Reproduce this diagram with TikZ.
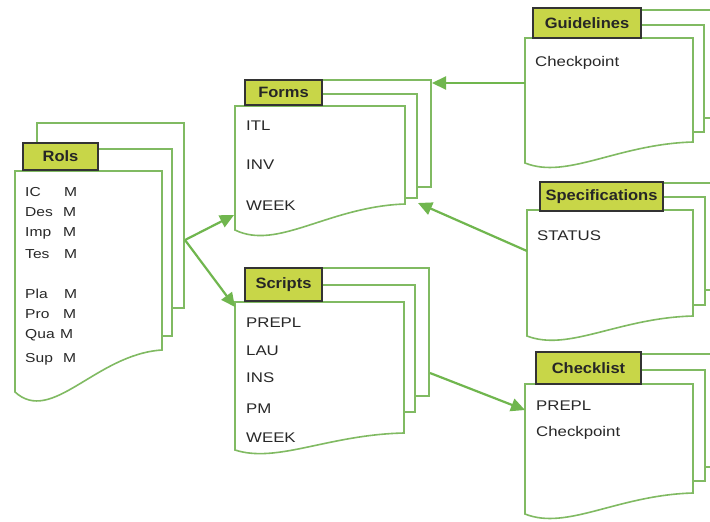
\documentclass[tikz,border=0pt]{standalone}
\usepackage{fontspec}
\setmainfont[FakeStretch=1.2]{Liberation Sans}
\newfontfamily\tabfont[FakeStretch=1.1]{Liberation Sans}
\usetikzlibrary{arrows.meta}
\definecolor{pagegreen}{RGB}{128,186,98}
\definecolor{arrowgreen}{RGB}{112,182,78}
\definecolor{tabfill}{RGB}{200,214,72}
\definecolor{txtgray}{RGB}{40,40,40}
\tikzset{
 pageline/.style={draw=pagegreen, line width=1.6pt, fill=white, line join=miter},
 tabbox/.style={draw=black!80, line width=1.2pt, fill=tabfill, font=\tabfont\bfseries\fontsize{15}{15}\selectfont, text=black!85, inner sep=0pt},
 txt/.style={anchor=base west, inner sep=0pt, font=\fontsize{14}{14}\selectfont, text=txtgray},
 roletxt/.style={anchor=base west, inner sep=0pt, font=\fontsize{13}{13}\selectfont, text=txtgray},
 conn/.style={draw=arrowgreen, line width=2.2pt, -{Triangle[length=14pt,width=13pt]}},
}
\newcommand\backpage[4]{\draw[pageline] (#1,#2) rectangle (#3,#4);}
\newcommand\frontpage[5]{%
 \pgfmathsetmacro\fpw{#3-#1}\pgfmathsetmacro\fpd{#5-#4}%
 \draw[pageline] (#1,#5) -- (#1,#2) -- (#3,#2) -- (#3,#4) .. controls ({#1+0.55*\fpw},{#4+0.1*\fpd}) and ({#1+0.25*\fpw},{#5+0.8*\fpd}) .. (#1,#5) -- cycle;}
\begin{document}
\begin{tikzpicture}[x=1pt,y=-1pt]
\fill[white] (0,0) rectangle (710,522);
\useasboundingbox (0,0) rectangle (710,522);
% Roles
\backpage{37}{123}{184}{308}
\backpage{26}{149}{172}{336}
\frontpage{15}{171}{162}{350}{392}
\node[tabbox, minimum width=75pt, minimum height=27pt] (rolesTab) at (60.5,156.5) {Rols};
\node[roletxt] (r1) at (25,196) {IC};  \node[roletxt] (r1m) at (64,196) {M};
\node[roletxt] (r2) at (25,216) {Des}; \node[roletxt] (r2m) at (63,216) {M};
\node[roletxt] (r3) at (25,236) {Imp}; \node[roletxt] (r3m) at (63,236) {M};
\node[roletxt] (r4) at (25,258) {Tes}; \node[roletxt] (r4m) at (64,258) {M};
\node[roletxt] (r5) at (25,298) {Pla}; \node[roletxt] (r5m) at (64,298) {M};
\node[roletxt] (r6) at (25,318) {Pro}; \node[roletxt] (r6m) at (63,318) {M};
\node[roletxt] (r7) at (25,338) {Qua}; \node[roletxt] (r7m) at (60,338) {M};
\node[roletxt] (r8) at (25,362) {Sup}; \node[roletxt] (r8m) at (63,362) {M};
% Forms
\backpage{260}{80}{431}{187}
\backpage{248}{94}{417}{198}
\frontpage{235}{106}{405}{204}{230}
\node[tabbox, minimum width=77pt, minimum height=25pt] (formsTab) at (283.5,92.5) {Forms};
\node[txt] (f1) at (246,130) {ITL};
\node[txt] (f2) at (246,169) {INV};
\node[txt] (f3) at (246,210) {WEEK};
% Scripts
\backpage{260}{268}{429}{396}
\backpage{248}{285}{415}{412}
\frontpage{235}{302}{404}{433}{450}
\node[tabbox, minimum width=77pt, minimum height=33pt] (scriptsTab) at (283.5,284.5) {Scripts};
\node[txt] (s1) at (246,327) {PREPL};
\node[txt] (s2) at (246,355) {LAU};
\node[txt] (s3) at (246,382) {INS};
\node[txt] (s4) at (246,413) {PM};
\node[txt] (s5) at (246,442) {WEEK};
% Guidelines
\backpage{560}{10}{715}{118}
\backpage{545}{25}{704}{132}
\frontpage{525}{38}{693}{142}{163}
\node[tabbox, minimum width=108pt, minimum height=30pt] (guideTab) at (587,23) {Guidelines};
\node[txt] (g1) at (535,66) {Checkpoint};
% Specifications
\backpage{560}{183}{715}{290}
\backpage{545}{197}{705}{305}
\frontpage{527}{210}{693}{316}{336}
\node[tabbox, minimum width=123pt, minimum height=29pt] (specTab) at (601.5,196.5) {Specifications};
\node[txt] (sp1) at (537,240) {STATUS};
% Checklist
\backpage{560}{354}{715}{467}
\backpage{545}{370}{705}{481}
\frontpage{525}{384}{693}{493}{514}
\node[tabbox, minimum width=105pt, minimum height=32pt] (checkTab) at (588.5,368) {Checklist};
\node[txt] (c1) at (536,410) {PREPL};
\node[txt] (c2) at (536,436) {Checkpoint};
% connector endpoints
\coordinate (rolesOut) at (185,240);
\coordinate (formsInL) at (234,215);
\coordinate (scriptsIn) at (235,307);
\coordinate (guideOut) at (525,83);
\coordinate (formsInR) at (432,83);
\coordinate (specOut) at (527,251);
\coordinate (formsInB) at (418,203);
\coordinate (scriptsOut) at (430,373);
\coordinate (checkIn) at (525,410);
\draw[conn] (rolesOut) -- (formsInL);
\draw[conn] (rolesOut) -- (scriptsIn);
\draw[conn] (guideOut) -- (formsInR);
\draw[conn] (specOut) -- (formsInB);
\draw[conn] (scriptsOut) -- (checkIn);
\end{tikzpicture}
\end{document}
